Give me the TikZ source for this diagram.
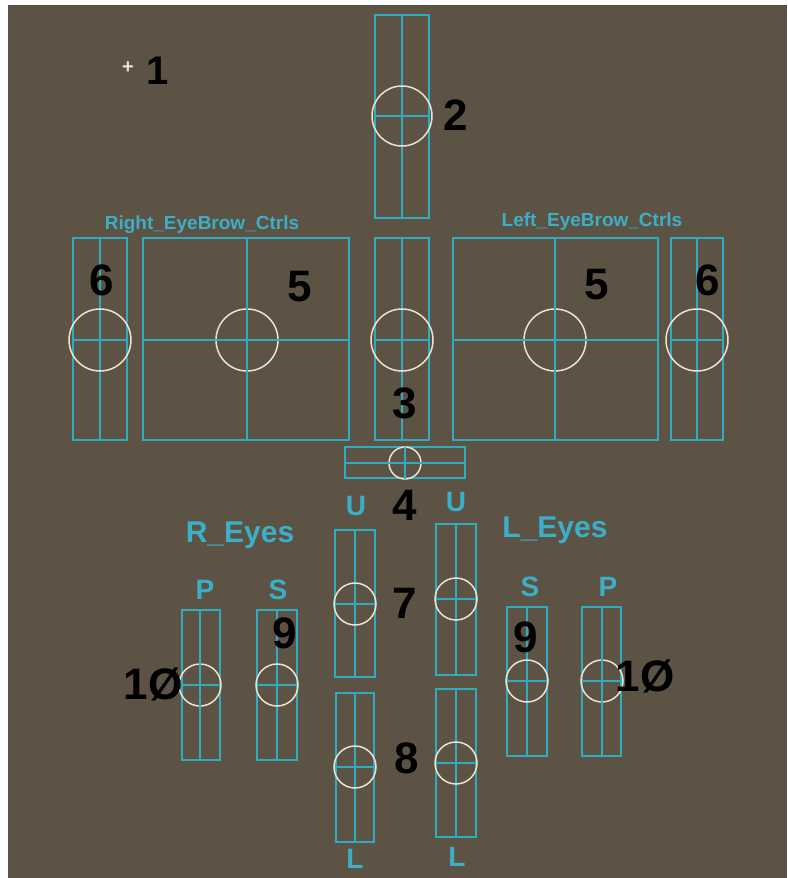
\documentclass[tikz,border=0pt]{standalone}
\usepackage{fontspec}
\setmainfont{Liberation Sans}
\definecolor{bgbrown}{RGB}{92,83,68}
\definecolor{cyanline}{RGB}{48,172,192}
\definecolor{cyantext}{RGB}{60,175,200}
\definecolor{creamline}{RGB}{236,226,205}
\tikzset{
  ctrlbox/.style={draw=cyanline, line width=1.3pt, inner sep=0pt, outer sep=0pt},
  guide/.style={draw=cyanline, line width=1.3pt},
  knob/.style={circle, draw=creamline, line width=1.5pt, inner sep=0pt, outer sep=0pt},
  num/.style={font=\fontsize{44}{44}\selectfont\bfseries, text=black, inner sep=0pt},
  tag/.style={font=\fontsize{28}{28}\selectfont\bfseries, text=cyantext, inner sep=0pt},
  title/.style={font=\fontsize{30}{30}\selectfont\bfseries, text=cyantext, inner sep=0pt},
  brow/.style={font=\fontsize{19}{19}\selectfont\bfseries, text=cyantext, inner sep=0pt}
}
\begin{document}
\begin{tikzpicture}[x=1pt,y=-1pt]
\useasboundingbox (0,0) rectangle (787,878);
\fill[white] (0,0) rectangle (787,878);
\fill[bgbrown] (8,5) rectangle (787,878);

% item 1
\node[font=\fontsize{20}{20}\selectfont\bfseries, text=creamline, inner sep=0pt] (plus1) at (128,68) {+};
\node[num, font=\fontsize{40}{40}\selectfont\bfseries] (n1) at (158,71) {1};

% box 2
\node[ctrlbox, minimum width=54pt, minimum height=203pt] (b2) at (402,116.5) {};
\draw[guide] (b2.north) -- (b2.south);
\node[knob, minimum size=60pt] (k2) at (402,116) {};
\draw[guide] (b2.west |- k2) -- (b2.east |- k2);
\node[num] (n2) at (456,115) {2};

% eyebrow labels
\node[brow] (rbl) at (202,225) {Right\_EyeBrow\_Ctrls};
\node[brow] (lbl) at (592,222) {Left\_EyeBrow\_Ctrls};

% right eyebrow: box 6 left
\node[ctrlbox, minimum width=54pt, minimum height=202pt] (b6r) at (100,339) {};
\draw[guide] (b6r.north) -- (b6r.south);
\node[knob, minimum size=62pt] (k6r) at (100,340) {};
\draw[guide] (b6r.west |- k6r) -- (b6r.east |- k6r);
\node[num] (n6r) at (102,280) {6};

% box 5 left
\node[ctrlbox, minimum width=206pt, minimum height=202pt] (b5r) at (246,339) {};
\node[knob, minimum size=62pt] (k5r) at (247,340) {};
\draw[guide] (b5r.north -| k5r) -- (b5r.south -| k5r);
\draw[guide] (b5r.west |- k5r) -- (b5r.east |- k5r);
\node[num] (n5r) at (300,287) {5};

% box 3 center
\node[ctrlbox, minimum width=54pt, minimum height=202pt] (b3) at (402,339) {};
\draw[guide] (b3.north) -- (b3.south);
\node[knob, minimum size=62pt] (k3) at (402,340) {};
\draw[guide] (b3.west |- k3) -- (b3.east |- k3);
\node[num] (n3) at (405,403) {3};

% box 5 right
\node[ctrlbox, minimum width=205pt, minimum height=202pt] (b5l) at (555.5,339) {};
\node[knob, minimum size=62pt] (k5l) at (555,340) {};
\draw[guide] (b5l.north -| k5l) -- (b5l.south -| k5l);
\draw[guide] (b5l.west |- k5l) -- (b5l.east |- k5l);
\node[num] (n5l) at (597,285) {5};

% box 6 right
\node[ctrlbox, minimum width=52pt, minimum height=202pt] (b6l) at (697,339) {};
\draw[guide] (b6l.north) -- (b6l.south);
\node[knob, minimum size=62pt] (k6l) at (697,340) {};
\draw[guide] (b6l.west |- k6l) -- (b6l.east |- k6l);
\node[num] (n6l) at (708,280) {6};

% box 4
\node[ctrlbox, minimum width=120pt, minimum height=31pt] (b4) at (405,462.5) {};
\node[knob, minimum size=32pt] (k4) at (405,463) {};
\draw[guide] (b4.west |- k4) -- (b4.east |- k4);
\draw[guide] (k4.north) -- (k4.south);
\node[num] (n4) at (405,505) {4};

% U labels
\node[tag] (ul) at (356,506) {U};
\node[tag] (ur) at (456,502) {U};

% box 7 left / right
\node[ctrlbox, minimum width=40pt, minimum height=147pt] (b7r) at (355,603.5) {};
\draw[guide] (b7r.north) -- (b7r.south);
\node[knob, minimum size=42pt] (k7r) at (355,604) {};
\draw[guide] (b7r.west |- k7r) -- (b7r.east |- k7r);
\node[num] (n7) at (405,603) {7};

\node[ctrlbox, minimum width=40pt, minimum height=151pt] (b7l) at (456,599.5) {};
\draw[guide] (b7l.north) -- (b7l.south);
\node[knob, minimum size=42pt] (k7l) at (456,599) {};
\draw[guide] (b7l.west |- k7l) -- (b7l.east |- k7l);

% box 8 left / right
\node[ctrlbox, minimum width=38pt, minimum height=149pt] (b8r) at (355,767.5) {};
\draw[guide] (b8r.north) -- (b8r.south);
\node[knob, minimum size=42pt] (k8r) at (355,767) {};
\draw[guide] (b8r.west |- k8r) -- (b8r.east |- k8r);
\node[num] (n8) at (407,758) {8};

\node[ctrlbox, minimum width=40pt, minimum height=148pt] (b8l) at (456,763) {};
\draw[guide] (b8l.north) -- (b8l.south);
\node[knob, minimum size=42pt] (k8l) at (456,763) {};
\draw[guide] (b8l.west |- k8l) -- (b8l.east |- k8l);

% L labels
\node[tag] (ll) at (355,859) {L};
\node[tag] (lr) at (457,857) {L};

% eye group titles
\node[title] (reyes) at (240,535) {R\_Eyes};
\node[title] (leyes) at (555,530) {L\_Eyes};

% P / S labels
\node[tag] (pr) at (205,590) {P};
\node[tag] (sr) at (278,590) {S};
\node[tag] (sl) at (530,587) {S};
\node[tag] (pl) at (608,587) {P};

% box 10 left
\node[ctrlbox, minimum width=38pt, minimum height=150pt] (b10r) at (201,685) {};
\node[knob, minimum size=42pt] (k10r) at (200,685) {};
\draw[guide] (b10r.north -| k10r) -- (b10r.south -| k10r);
\draw[guide] (b10r.west |- k10r) -- (b10r.east |- k10r);
\node[num] (n10r) at (153,684) {1Ø};

% box 9 left
\node[ctrlbox, minimum width=40pt, minimum height=150pt] (b9r) at (277,685) {};
\draw[guide] (b9r.north) -- (b9r.south);
\node[knob, minimum size=42pt] (k9r) at (277,685) {};
\draw[guide] (b9r.west |- k9r) -- (b9r.east |- k9r);
\node[num] (n9r) at (285,633) {9};

% box 9 right
\node[ctrlbox, minimum width=40pt, minimum height=149pt] (b9l) at (527,681.5) {};
\draw[guide] (b9l.north) -- (b9l.south);
\node[knob, minimum size=42pt] (k9l) at (527,681) {};
\draw[guide] (b9l.west |- k9l) -- (b9l.east |- k9l);
\node[num] (n9l) at (526,637) {9};

% box 10 right
\node[ctrlbox, minimum width=39pt, minimum height=149pt] (b10l) at (601.5,681.5) {};
\node[knob, minimum size=42pt] (k10l) at (602,681) {};
\draw[guide] (b10l.north -| k10l) -- (b10l.south -| k10l);
\draw[guide] (b10l.west |- k10l) -- (b10l.east |- k10l);
\node[num] (n10l) at (645,676) {1Ø};
\end{tikzpicture}
\end{document}
